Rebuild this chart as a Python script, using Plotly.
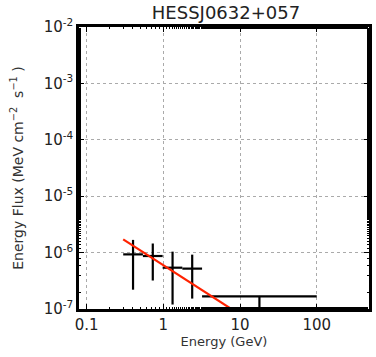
import numpy as np
import plotly.graph_objects as go

# Data
e_center = [0.403, 0.729, 1.32, 2.38, 17.9]
e_low = [0.30, 0.542, 0.98, 1.77, 3.2]
e_high = [0.542, 0.98, 1.77, 3.2, 100.0]
flux = [9.3e-7, 8.7e-7, 5.4e-7, 5.2e-7, 1.68e-7]
flux_lo = [2.2e-7, 3.2e-7, 1.2e-7, 1.53e-7, 5e-8]
flux_hi = [1.68e-6, 1.45e-6, 1.04e-6, 9.2e-7, 1.68e-7]

model_e = [0.3, 100.0]
model_flux = [1.72e-6, 1.06e-8]

x_tickvals = [0.1, 1, 10, 100]
x_ticktext = ["0.1", "1", "10", "100"]
y_tickvals = [1e-7, 1e-6, 1e-5, 1e-4, 1e-3, 1e-2]
y_ticktext = ["10<sup>-7</sup>", "10<sup>-6</sup>", "10<sup>-5</sup>",
              "10<sup>-4</sup>", "10<sup>-3</sup>", "10<sup>-2</sup>"]

ex_plus = [h - c for h, c in zip(e_high, e_center)]
ex_minus = [c - l for c, l in zip(e_center, e_low)]
ey_plus = [h - f for h, f in zip(flux_hi, flux)]
ey_minus = [f - l for f, l in zip(flux, flux_lo)]

fig = go.Figure()
fig.add_trace(go.Scatter(
    x=e_center, y=flux, mode="markers",
    marker=dict(size=1, color="black"),
    error_x=dict(type="data", array=ex_plus, arrayminus=ex_minus,
                 color="black", thickness=2.2, width=0),
    error_y=dict(type="data", array=ey_plus, arrayminus=ey_minus,
                 color="black", thickness=2.2, width=0),
    showlegend=False, cliponaxis=True))
fig.add_trace(go.Scatter(
    x=model_e, y=model_flux, mode="lines",
    line=dict(color="#ff2200", width=2.2), showlegend=False))

axis_common = dict(
    type="log", showline=True, linecolor="black", linewidth=2.5, mirror="ticks",
    ticks="inside", ticklen=5, tickcolor="black", tickwidth=1,
    showgrid=True, gridcolor="#aaaaaa", griddash="dot", gridwidth=1,
    zeroline=False,
    minor=dict(ticks="inside", ticklen=2.5, tickcolor="black", showgrid=False),
    tickfont=dict(family="DejaVu Sans", size=15, color="#222222"),
)

fig.update_xaxes(**axis_common, range=[np.log10(0.0796), np.log10(480)],
                 tickvals=x_tickvals, ticktext=x_ticktext,
                 title=dict(text="Energy (GeV)", font=dict(family="DejaVu Sans", size=13, color="#333333"),
                            standoff=4))
fig.update_yaxes(**axis_common, range=[-7, -2],
                 tickvals=y_tickvals, ticktext=y_ticktext,
                 title=dict(text="Energy Flux (MeV cm<sup>\u22122</sup>  s<sup>\u22121</sup> )",
                            font=dict(family="DejaVu Sans", size=14, color="#333333"),
                            standoff=17))

fig.update_layout(
    width=376, height=357,
    margin=dict(l=79, r=4, t=27, b=48),
    paper_bgcolor="white", plot_bgcolor="white",
    title=dict(text="HESSJ0632+057", x=226 / 376, xanchor="center", y=1 - 13 / 357, yanchor="middle",
               font=dict(family="DejaVu Sans", size=18, color="#222222")),
)

fig.write_html("out.html")
